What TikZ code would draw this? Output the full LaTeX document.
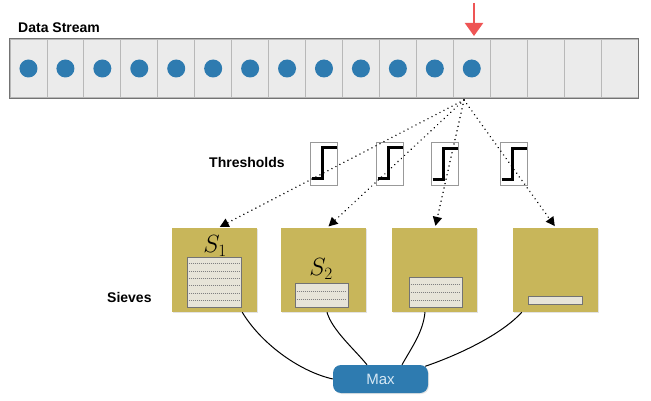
\documentclass[tikz,border=0pt]{standalone}
\usepackage{fontspec}
\setmainfont{Liberation Sans}
\usetikzlibrary{arrows.meta,calc,shadows}
\definecolor{dotblue}{HTML}{2E7BB0}
\definecolor{sievegold}{HTML}{C8B65A}
\definecolor{paper}{HTML}{E7E4D8}
\definecolor{cellgray}{HTML}{EBEBEB}
\definecolor{redarrow}{HTML}{EE5555}
\definecolor{maxtext}{HTML}{D6E8F4}
\begin{document}
\begin{tikzpicture}[x=1pt,y=-1pt,
 cell/.style={draw=black!28, fill=cellgray, minimum width=36.94pt, minimum height=58.5pt, inner sep=0pt, line width=0.8pt},
 dotnode/.style={circle, fill=dotblue, minimum size=18pt, inner sep=0pt},
 lbl/.style={font=\fontsize{14}{16}\selectfont\bfseries, anchor=west, inner sep=0pt},
 thr/.style={draw=black!40, fill=white, minimum width=27pt, minimum height=43pt, inner sep=0pt, line width=0.8pt},
 stepline/.style={line width=3pt, black},
 sieve/.style={fill=sievegold, minimum width=85pt, minimum height=84pt, inner sep=0pt, drop shadow={opacity=0.22, shadow xshift=1.2pt, shadow yshift=-1.2pt}},
 paperbox/.style={draw=black!55, fill=paper, line width=0.8pt, inner sep=0pt},
 ruleline/.style={draw=black!50, line width=0.6pt, dash pattern=on 1.2pt off 0.8pt},
 feed/.style={line width=1.6pt, dash pattern=on 0.01pt off 4.5pt, line cap=round, shorten >=2pt, -{Triangle[length=9pt,width=9pt]}},
 merge/.style={line width=1pt},
 maxbox/.style={fill=dotblue, rounded corners=8pt, minimum width=95pt, minimum height=28pt, text=maxtext, font=\fontsize{15}{17}\selectfont, drop shadow={opacity=0.2, shadow xshift=1pt, shadow yshift=-1pt}}
]
\useasboundingbox (0,0) rectangle (651,401);

% data stream
\node[lbl] (ds) at (18,28) {Data Stream};
\foreach \i in {1,...,17}
  \node[cell] (c\i) at ({10+36.94*(\i-0.5)},68.5) {};
\draw[black!55, line width=1.2pt] (c1.north west) rectangle (c17.south east);
\foreach \i in {1,...,13}
  \node[dotnode] (d\i) at (c\i) {};

% red arrow
\coordinate (rtop) at (474,3);
\coordinate (rtip) at (474,36);
\draw[redarrow, line width=2.2pt, -{Triangle[length=13pt,width=18pt]}] (rtop) -- (rtip);

% thresholds
\node[lbl] (thl) at (209,162) {Thresholds};
\node[thr] (t1) at (323.5,163.5) {};
\node[thr] (t2) at (389.5,163.5) {};
\node[thr] (t3) at (444.5,164) {};
\node[thr] (t4) at (513.5,164) {};
\foreach \t in {t1,t2,t3,t4}
  \draw[stepline] ([shift={(-12,15.5)}]\t.center) -- ++(11,0) -- ++(0,-31) -- ++(14,0);

% sieves
\node[lbl] (sv) at (107,297) {Sieves};
\node[sieve] (s1) at (214.5,270) {};
\node[sieve] (s2) at (323,270) {};
\node[sieve] (s3) at (434.5,270) {};
\node[sieve] (s4) at (555.5,270) {};

\node[paperbox, minimum width=54pt, minimum height=50pt] (p1) at (214,282) {};
\node[paperbox, minimum width=53pt, minimum height=24pt] (p2) at (321.5,295) {};
\node[paperbox, minimum width=53pt, minimum height=30pt] (p3) at (435.5,292) {};
\node[paperbox, minimum width=54pt, minimum height=8pt] (p4) at (555,300) {};
\foreach \k in {1,...,6}
  \draw[ruleline] ($(p1.south west)+(2,-7.3*\k)$) -- ($(p1.south east)+(-2,-7.3*\k)$);
\foreach \k in {1,2}
  \draw[ruleline] ($(p2.south west)+(2,-8*\k)$) -- ($(p2.south east)+(-2,-8*\k)$);
\foreach \k in {1,2,3}
  \draw[ruleline] ($(p3.south west)+(2,-7.6*\k)$) -- ($(p3.south east)+(-2,-7.6*\k)$);

\node (l1) at (215,246) {\fontsize{24}{26}\selectfont $S_1$};
\node (l2) at (321,269) {\fontsize{24}{26}\selectfont $S_2$};

% feed lines
\coordinate (src) at (464,100);
\draw[feed] (src) -- ([xshift=3.5]s1.north);
\draw[feed] (src) -- ([xshift=4]s2.north);
\draw[feed] (src) -- ([xshift=0.5]s3.north);
\draw[feed] (src) -- ([xshift=0.5]s4.north);

% max
\node[maxbox] (mx) at (380.5,379) {Max};
\draw[merge] ([xshift=-15]s1.south east) .. controls +(18,30) and +(-35,-8) .. (mx.west);
\draw[merge] ([xshift=4]s2.south) .. controls +(5,18) and +(-12,-15) .. ([xshift=-13.5]mx.north);
\draw[merge] ([xshift=-9.5]s3.south) .. controls +(-2,20) and +(10,-18) .. ([xshift=21.5]mx.north);
\draw[merge] ([xshift=9]s4.south west) .. controls +(-20,22) and +(35,-12) .. ($(mx.north east)+(-3,1.5)$);
\end{tikzpicture}
\end{document}
